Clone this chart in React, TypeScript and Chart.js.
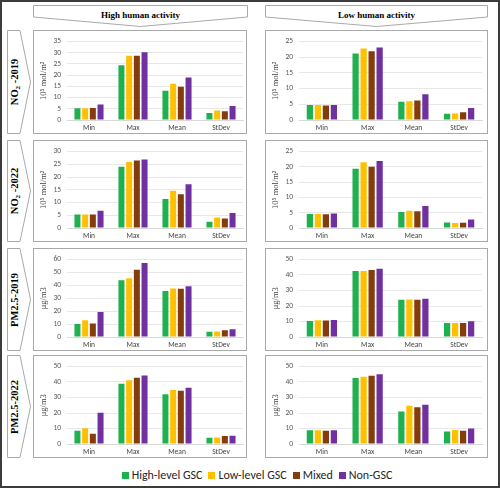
import React, { useEffect, useRef } from "react";
import { Chart, registerables } from "chart.js";
Chart.register(...registerables);

const categories = ["Min", "Max", "Mean", "StDev"];
const seriesNames = ["High-level GSC", "Low-level GSC", "Mixed", "Non-GSC"];
const seriesColors = ["#1fb04f", "#ffc000", "#843c0c", "#7030a0"];

// each panel: one row per series (High-level GSC, Low-level GSC, Mixed, Non-GSC), values for Min, Max, Mean, StDev
const no2_2019_high = [
  [5.2, 24.4, 13.0, 3.1],
  [5.2, 28.6, 16.2, 4.2],
  [5.4, 28.6, 14.8, 3.9],
  [6.9, 30.2, 18.9, 6.2],
];
const no2_2019_low = [
  [4.8, 21.2, 5.8, 2.0],
  [4.8, 22.8, 6.0, 2.1],
  [4.6, 21.9, 6.2, 2.5],
  [4.8, 23.1, 8.2, 3.8],
];
const no2_2022_high = [
  [5.3, 24.0, 11.4, 2.5],
  [5.3, 25.9, 14.6, 4.1],
  [5.3, 26.5, 13.2, 3.7],
  [6.8, 26.9, 17.2, 5.9],
];
const no2_2022_low = [
  [4.6, 19.4, 5.2, 1.8],
  [4.6, 21.5, 5.6, 1.6],
  [4.5, 20.0, 5.5, 1.7],
  [4.7, 21.9, 7.2, 2.8],
];
const pm_2019_high = [
  [10.1, 43.9, 35.7, 4.1],
  [13.0, 45.5, 37.6, 4.3],
  [10.4, 52.0, 37.3, 5.3],
  [19.3, 57.3, 39.3, 6.0],
];
const pm_2019_low = [
  [10.4, 42.6, 24.0, 9.0],
  [10.8, 42.6, 24.2, 9.0],
  [10.6, 43.2, 24.0, 9.0],
  [11.0, 44.0, 24.6, 10.2],
];
const pm_2022_high = [
  [8.6, 38.8, 32.1, 4.0],
  [10.2, 41.2, 34.9, 4.2],
  [6.6, 42.8, 34.3, 5.2],
  [20.1, 44.2, 36.3, 5.4],
];
const pm_2022_low = [
  [8.8, 42.6, 20.9, 8.0],
  [8.8, 43.4, 24.7, 9.0],
  [8.6, 44.0, 23.7, 8.6],
  [8.8, 45.0, 25.3, 10.0],
];

const columnTitles = ["High human activity", "Low human activity"];
const no2Unit = "10⁵ mol/m²";
const pmUnit = "μg/m3";

const SANS = "Carlito, Lato, 'Liberation Sans', sans-serif";
const SERIF = "'Liberation Serif', 'DejaVu Serif', serif";

type PanelProps = {
  values: number[][];
  max: number;
  step: number;
  unit: string;
  left: number;
  top: number;
  width: number;
  height: number;
  padRight: number;
};

function BarPanel({ values, max, step, unit, left, top, width, height, padRight }: PanelProps) {
  const ref = useRef<HTMLCanvasElement>(null);
  useEffect(() => {
    const chart = new Chart(ref.current!, {
      type: "bar",
      data: {
        labels: categories,
        datasets: seriesNames.map((n, i) => ({
          label: n,
          data: values[i],
          backgroundColor: seriesColors[i],
          barPercentage: 0.78,
          categoryPercentage: 0.7,
        })),
      },
      options: {
        animation: false,
        responsive: false,
        maintainAspectRatio: false,
        layout: { padding: { top: 6, right: padRight, left: 0, bottom: 0 } },
        plugins: { legend: { display: false }, tooltip: { enabled: false } },
        scales: {
          x: {
            grid: { display: false, drawTicks: false },
            border: { display: true, color: "#d9d9d9" },
            ticks: { font: { size: 7.5, family: SANS }, color: "#404040", padding: 4, autoSkip: false, maxRotation: 0 },
            afterFit: (s: any) => {
              s.height = 13;
            },
          },
          y: {
            min: 0,
            max,
            ticks: { stepSize: step, font: { size: 7.5, family: SANS }, color: "#595959", padding: 6, autoSkip: false },
            grid: { color: "#e8e8e8", drawTicks: false },
            border: { display: false },
            title: {
              display: true,
              text: unit,
              font: { size: 8.5, family: SERIF },
              color: "#404040",
              padding: { top: 5, bottom: 0 },
            },
            afterFit: (s: any) => {
              s.width = 33;
            },
          },
        },
      },
    } as any);
    return () => chart.destroy();
  }, []);
  return (
    <div
      style={{
        position: "absolute",
        left,
        top,
        width,
        height,
        border: "1px solid #a9a9a9",
        boxSizing: "border-box",
        background: "#fff",
      }}
    >
      <canvas ref={ref} width={width - 2} height={height - 2} style={{ display: "block" }} />
    </div>
  );
}

function HeaderArrow({ left, width, text }: { left: number; width: number; text: string }) {
  const top = 5;
  const h = 22;
  return (
    <div style={{ position: "absolute", left, top, width, height: h }}>
      <svg width={width} height={h} style={{ position: "absolute", left: 0, top: 0 }}>
        <polygon
          points={`0.5,0.5 ${width - 0.5},0.5 ${width - 0.5},12 ${width / 2},${h - 0.5} 0.5,12`}
          fill="#fff"
          stroke="#a9a9a9"
          strokeWidth={1}
        />
      </svg>
      <div
        style={{
          position: "absolute",
          left: 0,
          top: 4,
          width,
          textAlign: "center",
          font: `bold 9px ${SERIF}`,
          color: "#000",
          lineHeight: "12px",
        }}
      >
        {text}
      </div>
    </div>
  );
}

function RowArrow({ top, height, label }: { top: number; height: number; label: React.ReactNode }) {
  const left = 7;
  const w = 24;
  return (
    <div style={{ position: "absolute", left, top, width: w, height }}>
      <svg width={w} height={height} style={{ position: "absolute", left: 0, top: 0 }}>
        <polygon
          points={`0.5,0.5 13,0.5 ${w - 0.5},${height / 2} 13,${height - 0.5} 0.5,${height - 0.5}`}
          fill="#fff"
          stroke="#a9a9a9"
          strokeWidth={1}
        />
      </svg>
      <div
        style={{
          position: "absolute",
          left: 9 - 60,
          top: height / 2 - 7,
          width: 120,
          height: 14,
          lineHeight: "14px",
          textAlign: "center",
          transform: "rotate(-90deg)",
          transformOrigin: "60px 7px",
          font: `bold 10.5px ${SERIF}`,
          color: "#000",
          whiteSpace: "nowrap",
        }}
      >
        {label}
      </div>
    </div>
  );
}

const rows = [
  { top: 30, height: 104 },
  { top: 140, height: 102 },
  { top: 248, height: 103 },
  { top: 355, height: 103 },
];

export default function App() {
  const leftX = 33;
  const leftW = 214;
  const rightX = 265;
  const rightW = 223;
  return (
    <div
      style={{
        position: "fixed",
        left: 0,
        top: 0,
        width: 500,
        height: 488,
        border: "2px solid #3c3c3c",
        boxSizing: "border-box",
        background: "#fff",
        overflow: "hidden",
      }}
    >
      <div style={{ position: "absolute", left: -2, top: -2, width: 500, height: 488 }}>
        <HeaderArrow left={leftX} width={leftW + 1} text={columnTitles[0]} />
        <HeaderArrow left={rightX} width={rightW} text={columnTitles[1]} />

        <RowArrow
          top={rows[0].top}
          height={rows[0].height}
          label={
            <span>
              NO<sub style={{ fontSize: 7, verticalAlign: -2 }}>2</sub> -2019
            </span>
          }
        />
        <RowArrow
          top={rows[1].top}
          height={rows[1].height}
          label={
            <span>
              NO<sub style={{ fontSize: 7, verticalAlign: -2 }}>2</sub> -2022
            </span>
          }
        />
        <RowArrow top={rows[2].top} height={rows[2].height} label="PM2.5-2019" />
        <RowArrow top={rows[3].top} height={rows[3].height} label="PM2.5-2022" />

        <BarPanel values={no2_2019_high} max={35} step={5} unit={no2Unit} left={leftX} top={rows[0].top} width={leftW} height={rows[0].height} padRight={3} />
        <BarPanel values={no2_2019_low} max={25} step={5} unit={no2Unit} left={rightX} top={rows[0].top} width={rightW} height={rows[0].height} padRight={5} />
        <BarPanel values={no2_2022_high} max={30} step={5} unit={no2Unit} left={leftX} top={rows[1].top} width={leftW} height={rows[1].height} padRight={3} />
        <BarPanel values={no2_2022_low} max={25} step={5} unit={no2Unit} left={rightX} top={rows[1].top} width={rightW} height={rows[1].height} padRight={5} />
        <BarPanel values={pm_2019_high} max={60} step={10} unit={pmUnit} left={leftX} top={rows[2].top} width={leftW} height={rows[2].height} padRight={3} />
        <BarPanel values={pm_2019_low} max={50} step={10} unit={pmUnit} left={rightX} top={rows[2].top} width={rightW} height={rows[2].height} padRight={5} />
        <BarPanel values={pm_2022_high} max={50} step={10} unit={pmUnit} left={leftX} top={rows[3].top} width={leftW} height={rows[3].height} padRight={3} />
        <BarPanel values={pm_2022_low} max={50} step={10} unit={pmUnit} left={rightX} top={rows[3].top} width={rightW} height={rows[3].height} padRight={5} />

        <div
          style={{
            position: "absolute",
            left: 0,
            top: 467,
            width: 500,
            height: 16,
            display: "flex",
            justifyContent: "center",
            alignItems: "center",
            font: `12px ${SANS}`,
            color: "#262626",
            paddingLeft: 14,
            boxSizing: "border-box",
          }}
        >
          {seriesNames.map((n, i) => (
            <div key={n} style={{ display: "flex", alignItems: "center", marginRight: i < 3 ? 6 : 0 }}>
              <span style={{ display: "inline-block", width: 7, height: 7, background: seriesColors[i], marginRight: 3 }} />
              <span>{n}</span>
            </div>
          ))}
        </div>
      </div>
    </div>
  );
}
